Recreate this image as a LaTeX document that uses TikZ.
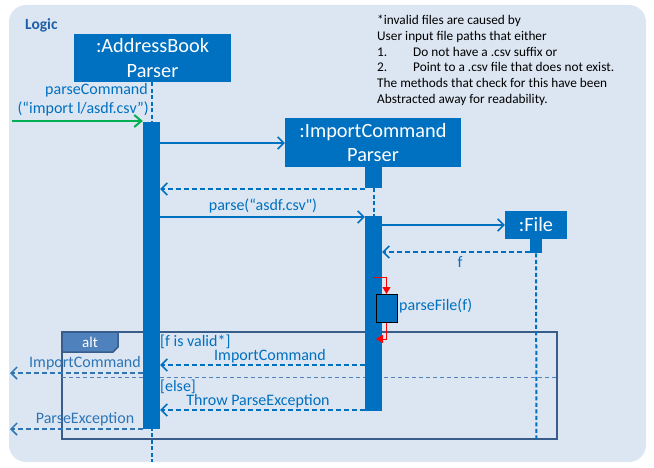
\documentclass[tikz,border=0pt]{standalone}
\usepackage{fontspec}
\newfontfamily\cfont{Carlito}
\usetikzlibrary{arrows.meta}
\definecolor{bg}{HTML}{DCE6F2}
\definecolor{obj}{HTML}{0070C0}
\definecolor{frm}{HTML}{385D8A}
\definecolor{tabc}{HTML}{4F81BD}
\definecolor{retl}{HTML}{2E75B6}
\definecolor{grn}{HTML}{00B050}
\definecolor{logicc}{HTML}{1F5FA6}
\begin{document}
\begin{tikzpicture}[x=1pt,y=-1pt,
  every node/.style={font=\cfont},
  objbox/.style={fill=obj, text=white, font=\cfont\fontsize{20.3}{24.5}\selectfont, align=center, inner sep=0pt},
  actbar/.style={fill=obj, inner sep=0pt, minimum width=17pt},
  msg/.style={draw=obj, line width=1.5pt, -{Straight Barb[length=6pt,width=12pt]}},
  retmsg/.style={msg, dash pattern=on 5pt off 3pt},
  lifeline/.style={draw=obj, line width=2pt, dash pattern=on 4pt off 2.5pt},
  lbl/.style={text=obj, font=\cfont\fontsize{16}{19}\selectfont, inner sep=0pt},
  notetext/.style={anchor=base west, inner sep=0pt, font=\cfont\fontsize{13.3}{15}\selectfont}
]
\useasboundingbox (0,0) rectangle (654,468);
\fill[bg, rounded corners=17pt] (9,5) rectangle (646,462);

\node[anchor=west, inner sep=0pt, text=logicc, font=\cfont\bfseries\fontsize{15.5}{17}\selectfont] (logic) at (25,25) {Logic};

% note
\node[notetext] (n1) at (377,25) {*invalid files are caused by};
\node[notetext] (n2) at (377,41) {User input file paths that either};
\node[notetext] (n3a) at (377,56.5) {1.};
\node[notetext] (n3) at (413,56.5) {Do not have a .csv suffix or};
\node[notetext] (n4a) at (377,72) {2.};
\node[notetext] (n4) at (413,72) {Point to a .csv file that does not exist.};
\node[notetext] (n5) at (377,88) {The methods that check for this have been};
\node[notetext] (n6) at (377,104) {Abstracted away for readability.};

% alt frame
\draw[frm, line width=2.5pt] (62,332) rectangle (557,439);
\draw[frm, line width=1.5pt, fill=tabc] (62,332) -- (118,332) -- (118,347) -- (113,352) -- (62,352) -- cycle;
\node[text=white, font=\cfont\fontsize{15}{18}\selectfont, inner sep=0pt] (alt) at (90,342) {alt};
\draw[tabc, line width=1pt, dash pattern=on 4pt off 3pt] (62,377) -- (557,377);

% objects
\node[objbox, minimum width=157pt, minimum height=48pt] (abp) at (152.5,58) {:AddressBook\\Parser};
\node[objbox, minimum width=176pt, minimum height=49pt] (icp) at (373,142.5) {:ImportCommand\\Parser};
\node[objbox, minimum width=62pt, minimum height=28pt] (file) at (536,225) {:File};

% lifelines
\coordinate (abpEnd) at (151.5,462);
\coordinate (fileEnd) at (536.5,440);
\draw[lifeline] (abp.south -| abpEnd) -- (abpEnd);

% activations
\node[actbar, minimum height=307pt, anchor=north] (abpA) at (151.5,122) {};
\node[actbar, minimum height=21pt, anchor=north] (icpA) at (373.5,167) {};
\node[actbar, minimum height=195pt, anchor=north] (icpB) at (373.5,216) {};
\node[actbar, minimum width=12pt, minimum height=14pt, anchor=north] (fileA) at (536,239) {};
\draw[lifeline] (icpA.south) -- (icpB.north);
\draw[lifeline] (fileA.south) -- (fileEnd);
\node[fill=obj, draw=black, line width=1pt, inner sep=0pt, minimum width=21pt, minimum height=28pt, anchor=north] (selfA) at (386.5,294) {};

% incoming call
\coordinate (start) at (12,121);
\draw[grn, line width=2pt, -{Straight Barb[length=7pt,width=12pt]}] (start) -- (abpA.west |- start);
\node[lbl, anchor=east] (pc1) at (148,90) {parseCommand};
\node[lbl, anchor=east] (pc2) at (149,109) {(“import l/asdf.csv”)};

% messages
\draw[msg] (abpA.east |- 0,143) -- (icp.west |- 0,143);
\draw[retmsg] (icpA.west |- 0,189) -- (abpA.east |- 0,189);
\draw[msg] (abpA.east |- 0,217) -- (icpB.west |- 0,217);
\node[lbl] (parse) at (263,206) {parse(“asdf.csv")};
\draw[msg] (icpB.east |- file.west) -- (file.west);
\draw[retmsg] (fileA.west |- 0,252) -- (icpB.east |- 0,252);
\node[lbl] (f) at (460,262) {f};

% self call
\coordinate (sc1) at (373,277);
\coordinate (sc2) at (376,339);
\draw[red, line width=1pt, -{Triangle[length=7pt,width=8pt]}] (sc1) -| (selfA.north);
\draw[red, line width=1pt, -{Triangle[length=7pt,width=8pt]}] (selfA.south) |- (sc2);
\node[lbl, anchor=west] (pf) at (399,306) {parseFile(f)};

% alt contents
\node[lbl, anchor=west] (g1) at (160,342) {[f is valid*]};
\draw[retmsg] (icpB.west |- 0,365) -- (abpA.east |- 0,365);
\node[lbl] (ic) at (270,356) {ImportCommand};
\node[lbl, anchor=west] (g2) at (160,387) {[else]};
\draw[retmsg] (icpB.west |- 0,410) -- (abpA.east |- 0,410);
\node[lbl] (tpe) at (258,401) {Throw ParseException};

% outgoing returns
\coordinate (out1) at (10,373);
\coordinate (out2) at (10,429);
\draw[retmsg, draw=retl] (abpA.west |- out1) -- (out1);
\node[lbl, text=retl] (ic2) at (85,363) {ImportCommand};
\draw[retmsg, draw=retl] (abpA.west |- out2) -- (out2);
\node[lbl, text=retl] (pe) at (85,419) {ParseException};
\end{tikzpicture}
\end{document}
